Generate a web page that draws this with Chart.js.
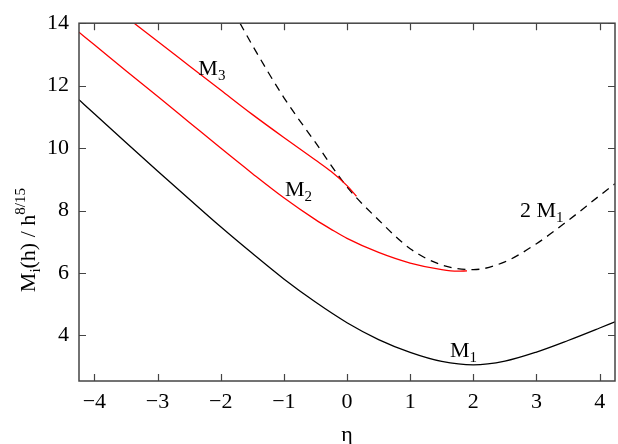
<!DOCTYPE html>
<html>
<head>
<meta charset="utf-8">
<script src="https://cdn.jsdelivr.net/npm/chart.js@4.4.1/dist/chart.umd.min.js"></script>
<style>
  html, body { margin: 0; padding: 0; background: #fff; }
  #wrap { width: 618px; height: 444px; }
</style>
</head>
<body>
<div id="wrap"><canvas id="chart" width="618" height="444"></canvas></div>
<script>
// values
const etaM1 = [-4.243, -4, -3.5, -3, -2.5, -2, -1.5, -1, -0.5, 0, 0.5, 1, 1.5, 2, 2.5, 3, 3.5, 4, 4.243]
const valM1 = [11.55, 11.10, 10.18, 9.27, 8.37, 7.48, 6.63, 5.81, 5.07, 4.41, 3.87, 3.46, 3.17, 3.06, 3.18, 3.47, 3.84, 4.24, 4.44]

const etaM2 = [-4.243, -4, -3.5, -3, -2.5, -2, -1.5, -1, -0.5, -0.25, 0, 0.5, 1, 1.5, 1.75, 1.9]
const valM2 = [13.71, 13.31, 12.48, 11.66, 10.83, 10.00, 9.19, 8.41, 7.71, 7.40, 7.11, 6.66, 6.32, 6.11, 6.06, 6.07]

const etaM3 = [-3.37, -3, -2.5, -2, -1.5, -1, -0.5, -0.25, 0, 0.15]
const valM3 = [14.0, 13.42, 12.64, 11.86, 11.08, 10.34, 9.62, 9.25, 8.80, 8.46]

const eta2M1 = [-1.694, -1.5, -1, -0.5, 0, 0.5, 1, 1.5, 2, 2.5, 3, 3.5, 4, 4.243]
const val2M1 = [14.0, 13.30, 11.62, 10.18, 8.76, 7.70, 6.78, 6.26, 6.11, 6.36, 6.94, 7.68, 8.48, 8.86]

const xTickValues = [-4, -3, -2, -1, 0, 1, 2, 3, 4]
const yTickValues = [4, 6, 8, 10, 12, 14]

const curveLabels = [
  { x: -2.354, y: 12.35, parts: [["M", ""], ["3", "sub"]] },
  { x: -0.982, y: 8.47, parts: [["M", ""], ["2", "sub"]] },
  { x: 2.738, y: 7.80, parts: [["2 M", ""], ["1", "sub"]] },
  { x: 1.630, y: 3.32, parts: [["M", ""], ["1", "sub"]] },
]

const FONT = "'Liberation Serif', 'Times New Roman', serif"
const BASE = 22
const SMALL = 15

Chart.defaults.font.family = FONT
Chart.defaults.font.size = BASE
Chart.defaults.color = "#000"

function points(xs, ys) {
  return xs.map((x, i) => ({ x, y: ys[i] }))
}

function richWidth(ctx, parts) {
  let w = 0
  for (const [t, kind] of parts) {
    ctx.font = (kind ? SMALL : BASE) + "px " + FONT
    w += ctx.measureText(t).width
  }
  return w
}

function drawRich(ctx, parts, x, y) {
  let cx = x
  for (const [t, kind] of parts) {
    const dy = kind === "sub" ? 5 : kind === "sup" ? -10 : 0
    ctx.font = (kind ? SMALL : BASE) + "px " + FONT
    ctx.fillText(t, cx, y + dy)
    cx += ctx.measureText(t).width
  }
}

// frame, inward ticks, curve names and axis titles
const decorations = {
  id: "decorations",
  afterDatasetsDraw(chart) {
    const { ctx, chartArea: a, scales } = chart
    ctx.save()
    ctx.strokeStyle = "#444"
    ctx.lineWidth = 1.5
    ctx.strokeRect(a.left, a.top, a.right - a.left, a.bottom - a.top)

    ctx.lineWidth = 1.2
    ctx.beginPath()
    for (const v of xTickValues) {
      const px = Math.round(scales.x.getPixelForValue(v)) + 0.5
      ctx.moveTo(px, a.bottom); ctx.lineTo(px, a.bottom - 7)
      ctx.moveTo(px, a.top); ctx.lineTo(px, a.top + 7)
    }
    for (const v of yTickValues) {
      const py = Math.round(scales.y.getPixelForValue(v)) + 0.5
      ctx.moveTo(a.left, py); ctx.lineTo(a.left + 7, py)
      ctx.moveTo(a.right, py); ctx.lineTo(a.right - 7, py)
    }
    ctx.stroke()

    ctx.fillStyle = "#000"
    ctx.textAlign = "left"
    ctx.textBaseline = "alphabetic"
    for (const lab of curveLabels) {
      drawRich(ctx, lab.parts, scales.x.getPixelForValue(lab.x), scales.y.getPixelForValue(lab.y))
    }

    // y title
    const yTitle = [["M", ""], ["i", "sub"], ["(h) / h", ""], ["8/15", "sup"]]
    ctx.save()
    ctx.translate(35, (a.top + a.bottom) / 2 + 38)
    ctx.rotate(-Math.PI / 2)
    drawRich(ctx, yTitle, -richWidth(ctx, yTitle) / 2, 0)
    ctx.restore()

    // x title
    ctx.font = BASE + "px " + FONT
    ctx.textAlign = "center"
    ctx.fillText("η", (a.left + a.right) / 2, 441)
    ctx.restore()
  }
}

const lineStyle = {
  showLine: true,
  pointRadius: 0,
  borderWidth: 1.3,
  cubicInterpolationMode: "monotone",
  fill: false,
}

new Chart(document.getElementById("chart"), {
  type: "scatter",
  data: {
    datasets: [
      { ...lineStyle, label: "M1", data: points(etaM1, valM1), borderColor: "#000" },
      { ...lineStyle, label: "M2", data: points(etaM2, valM2), borderColor: "#ff0000" },
      { ...lineStyle, label: "M3", data: points(etaM3, valM3), borderColor: "#ff0000" },
      { ...lineStyle, label: "2 M1", data: points(eta2M1, val2M1), borderColor: "#000", borderDash: [8, 6] },
    ]
  },
  options: {
    responsive: false,
    animation: false,
    layout: { padding: { top: 12, right: 3, left: 0, bottom: 0 } },
    plugins: {
      legend: { display: false },
      tooltip: { enabled: false },
    },
    scales: {
      x: {
        type: "linear",
        min: -4.243,
        max: 4.243,
        afterBuildTicks: s => { s.ticks = xTickValues.map(v => ({ value: v })) },
        afterFit: s => { s.height = 63 },
        grid: { display: false, drawTicks: false },
        border: { display: false },
        ticks: {
          color: "#000",
          padding: 8,
          maxRotation: 0,
          font: { family: FONT, size: BASE },
          callback: v => String(v).replace("-", "\u2212"),
        }
      },
      y: {
        type: "linear",
        min: 2.543,
        max: 14,
        afterBuildTicks: s => { s.ticks = yTickValues.map(v => ({ value: v })) },
        afterFit: s => { s.width = 79 },
        grid: { display: false, drawTicks: false },
        border: { display: false },
        ticks: {
          color: "#000",
          padding: 10,
          font: { family: FONT, size: BASE },
        }
      }
    }
  },
  plugins: [decorations]
})
</script>
</body>
</html>
